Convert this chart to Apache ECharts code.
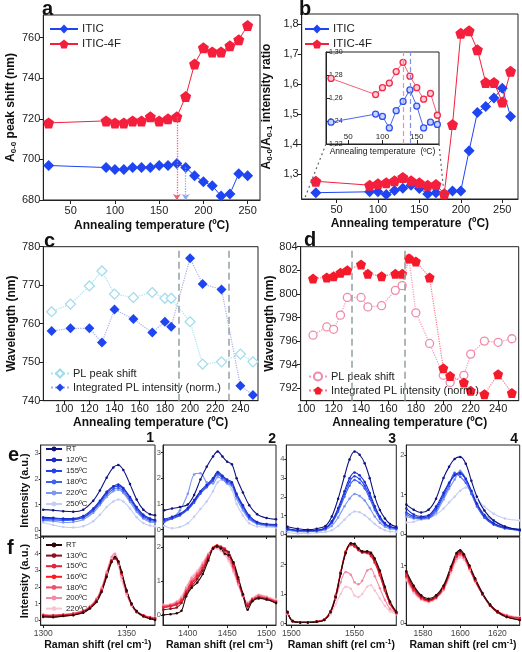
<!DOCTYPE html>
<html><head><meta charset="utf-8">
<script src="https://cdn.jsdelivr.net/npm/echarts@6/dist/echarts.min.js"></script>
<style>html,body{margin:0;padding:0;background:#fff}#c{width:522px;height:652px}</style>
</head><body><div id="c"></div>
<script>
// ---------------- DATA ----------------
// panel a
const tempA = [25,90,100,110,120,130,140,150,160,170,180,190,200,210,220,230,240,250];
const aITIC = [697,696,695,695,696,696,696,697,697,698,696,692,689,687,682,683,693,692];
const aITIC4F = [718,719,718,718,719,719,721,719,720,721,731,747,755,753,753,756,759,766];
const aArrowRed = [170, 721];
const aArrowBlue = [180, 696];
const aXTicks = [50,100,150,200,250];
const aYTicks = [680,700,720,740,760];
// panel b
const tempB = [25,90,100,110,120,130,140,150,160,170,180,190,200,210,220,230,240,250,260];
const bITIC = [1.238,1.241,1.241,1.232,1.245,1.253,1.263,1.252,1.234,1.238,1.234,1.244,1.244,1.378,1.505,1.525,1.553,1.586,1.492];
const bITIC4F = [1.276,1.263,1.268,1.271,1.278,1.289,1.278,1.271,1.263,1.265,1.234,1.465,1.769,1.777,1.714,1.605,1.605,1.540,1.642];
const bXTicks = [50,100,150,200,250];
const bYTicks = [1.3,1.4,1.5,1.6,1.7,1.8];
// panel b inset
const tempIn = [25,90,100,110,120,130,140,150,160,170,180];
const inITIC = [1.239,1.246,1.244,1.234,1.249,1.257,1.267,1.253,1.234,1.239,1.237];
const inITIC4F = [1.277,1.263,1.269,1.273,1.283,1.291,1.279,1.269,1.259,1.264,1.245];
const inXTicks = [50,100,150];
const inYTicks = [1.22,1.24,1.26,1.28,1.30];
const inMarks = [130, 140];
const bZoomTo = [[12,1.222],[180,1.226]];
// panel c
const tempC = [90,105,120,130,140,155,170,180,185,200,210,225,240,250];
const cPeak = [763.1,765.1,769.8,773.7,767.7,766.8,768.1,766.6,766.6,760.5,749.5,750.1,752.1,750.1];
const cInt = [758.1,758.8,758.8,755.1,763.7,761.2,757.7,760.5,759.2,777.0,770.3,768.9,743.9,741.5];
const cMarks = [191, 231];
const cXTicks = [100,120,140,160,180,200,220,240];
const cYTicks = [740,750,760,770,780];
// panel d
const tempD = [105,115,120,125,130,140,145,155,165,170,175,180,190,200,205,215,220,230,240,250];
const dPeak = [796.5,797.2,797.0,798.2,799.7,799.7,798.9,799.0,800.3,800.7,803.0,798.4,795.8,793.1,792.5,793.1,794.9,796.0,795.9,796.2];
const dInt = [801.3,801.4,801.5,801.8,802.0,802.5,801.7,801.5,801.7,801.7,803.0,802.75,801.4,793.7,793.05,792.5,791.8,791.5,793.2,791.6];
const dMarks = [133, 172];
const dXTicks = [100,120,140,160,180,200,220,240];
const dYTicks = [792,794,796,798,800,802,804];
// panel e (Raman, ITIC)
const eNames = ['RT','120ºC','155ºC','180ºC','220ºC','250ºC'];
const eX1 = [1300,1306,1312,1318,1324,1330,1334,1338,1342,1345,1348,1352,1356,1360,1364,1367];
const eY1 = [
 [0.80,0.78,0.74,0.72,0.80,1.15,1.55,2.05,2.45,2.55,2.35,1.80,1.20,0.80,0.62,0.58],
 [0.50,0.48,0.45,0.45,0.55,0.85,1.15,1.50,1.72,1.78,1.65,1.30,0.90,0.60,0.45,0.40],
 [0.45,0.45,0.42,0.42,0.50,0.80,1.10,1.45,1.68,1.72,1.60,1.25,0.85,0.55,0.42,0.38],
 [0.40,0.40,0.38,0.40,0.48,0.75,1.05,1.38,1.60,1.65,1.52,1.18,0.80,0.50,0.38,0.35],
 [0.38,0.35,0.30,0.32,0.42,0.68,0.98,1.30,1.52,1.58,1.45,1.10,0.72,0.45,0.32,0.30],
 [0.30,0.20,0.12,0.10,0.15,0.35,0.60,0.90,1.12,1.20,1.12,0.85,0.50,0.28,0.18,0.15]];
const eX2 = [1370,1380,1390,1400,1408,1416,1424,1432,1438,1444,1450,1456,1462,1470,1478,1488,1500,1512];
const eY2 = [
 [0.75,0.82,0.88,0.98,1.35,1.95,2.45,2.85,3.05,2.85,2.65,2.55,2.00,1.45,0.95,0.60,0.45,0.40],
 [0.40,0.50,0.62,0.85,1.15,1.50,1.75,2.00,2.25,2.10,1.95,1.85,1.40,0.95,0.55,0.30,0.22,0.20],
 [0.35,0.45,0.58,0.80,1.10,1.45,1.70,1.95,2.20,2.05,1.90,1.80,1.35,0.90,0.50,0.28,0.20,0.18],
 [0.30,0.42,0.55,0.78,1.05,1.40,1.65,1.90,2.15,2.00,1.85,1.75,1.30,0.85,0.45,0.25,0.18,0.15],
 [0.35,0.45,0.75,1.40,2.15,2.20,1.85,1.80,2.05,1.95,1.80,1.70,1.20,0.75,0.40,0.22,0.15,0.12],
 [0.15,0.05,0.10,0.25,0.50,0.80,1.10,1.50,1.85,1.95,1.80,1.55,1.00,0.55,0.25,0.12,0.10,0.08]];
const eX3 = [1497,1505,1513,1520,1527,1532,1537,1542,1546,1550,1554,1558,1562,1566,1570,1574,1578,1583];
const eY3 = [
 [0.40,0.30,0.25,0.30,0.45,0.95,1.90,3.10,4.00,4.42,4.25,3.80,3.00,2.00,1.30,0.85,0.55,0.40],
 [0.30,0.22,0.20,0.22,0.35,0.70,1.40,2.30,3.00,3.30,3.15,2.80,2.20,1.50,0.95,0.60,0.42,0.35],
 [0.28,0.20,0.18,0.20,0.32,0.65,1.30,2.15,2.80,3.10,2.95,2.60,2.05,1.40,0.90,0.55,0.40,0.33],
 [0.25,0.18,0.16,0.18,0.30,0.60,1.20,2.00,2.60,2.90,2.75,2.45,1.90,1.30,0.82,0.50,0.36,0.30],
 [0.22,0.15,0.14,0.16,0.25,0.45,0.90,1.50,1.90,2.15,2.05,1.80,1.40,0.95,0.62,0.40,0.30,0.26],
 [0.10,0.05,0.05,0.08,0.12,0.22,0.45,0.78,1.05,1.22,1.18,1.02,0.80,0.55,0.35,0.22,0.15,0.12]];
const eX4 = [1571,1575,1579,1583,1587,1591,1594,1597,1600,1603,1606,1609,1613,1618,1624,1632];
const eY4 = [
 [0.75,0.62,0.55,0.62,0.90,1.42,1.70,1.90,1.95,1.78,1.35,0.95,0.60,0.35,0.20,0.12],
 [0.65,0.50,0.45,0.48,0.70,1.05,1.30,1.50,1.55,1.40,1.10,0.78,0.48,0.28,0.18,0.12],
 [0.55,0.45,0.42,0.45,0.65,1.00,1.28,1.48,1.52,1.38,1.08,0.75,0.45,0.26,0.16,0.10],
 [0.50,0.42,0.40,0.42,0.60,0.95,1.22,1.55,1.45,1.30,1.02,0.70,0.42,0.24,0.15,0.10],
 [0.45,0.40,0.38,0.40,0.55,0.88,1.15,1.38,1.60,1.40,1.05,0.75,0.50,0.35,0.20,0.12],
 [0.30,0.32,0.38,0.42,0.50,0.65,0.80,0.95,1.10,1.18,1.10,0.90,0.70,0.52,0.40,0.35]];
// panel f (Raman, ITIC-4F)
const fNames = ['RT','130ºC','150ºC','160ºC','180ºC','200ºC','220ºC'];
const fX1 = [1300,1306,1312,1318,1324,1328,1332,1335,1338,1341,1343,1345,1347,1350,1353,1356,1360,1364,1367];
const fY1 = [
 [0.20,0.18,0.25,0.30,0.45,0.70,1.10,1.70,2.60,3.50,3.80,3.55,2.90,1.80,1.00,0.55,0.25,0.10,0.02],
 [0.25,0.22,0.28,0.32,0.48,0.72,1.15,1.75,2.65,3.55,3.75,3.50,2.85,1.75,0.95,0.50,0.22,0.10,0.05],
 [0.30,0.28,0.32,0.38,0.52,0.78,1.20,1.80,2.70,3.55,3.70,3.45,2.80,1.70,0.95,0.50,0.28,0.15,0.10],
 [0.28,0.26,0.30,0.36,0.50,0.76,1.20,1.80,2.75,3.60,3.80,3.50,2.80,1.72,0.95,0.52,0.28,0.15,0.12],
 [0.32,0.30,0.33,0.40,0.55,0.80,1.25,1.85,2.75,3.60,3.75,3.40,2.75,1.70,0.95,0.55,0.30,0.18,0.14],
 [0.35,0.32,0.36,0.42,0.58,0.85,1.30,1.95,2.90,3.80,4.00,3.50,2.60,1.60,0.90,0.50,0.30,0.20,0.16],
 [0.30,0.28,0.32,0.38,0.52,0.78,1.25,1.90,2.85,3.70,3.90,3.30,2.40,1.50,0.85,0.48,0.28,0.18,0.15]];
const fX2 = [1369,1378,1386,1392,1398,1405,1412,1419,1426,1432,1437,1442,1447,1452,1458,1464,1470,1476,1482,1490,1500,1512];
const fY2 = [
 [0.00,0.02,0.05,0.12,0.55,0.80,0.95,1.20,1.60,1.95,2.02,1.95,1.80,1.75,1.55,1.10,0.60,0.15,0.40,0.48,0.45,0.35],
 [0.15,0.18,0.22,0.35,0.62,0.85,1.05,1.30,1.65,1.95,2.02,1.98,1.90,1.85,1.50,1.05,0.62,0.25,0.42,0.50,0.45,0.35],
 [0.22,0.25,0.30,0.40,0.66,0.92,1.10,1.35,1.70,1.95,2.00,2.00,1.95,1.80,1.45,1.00,0.60,0.30,0.45,0.52,0.48,0.38],
 [0.22,0.26,0.32,0.42,0.68,0.95,1.15,1.38,1.72,1.98,2.05,2.00,1.92,1.78,1.42,0.98,0.58,0.30,0.45,0.52,0.48,0.38],
 [0.25,0.28,0.35,0.45,0.72,1.00,1.20,1.45,1.75,1.95,2.00,1.95,1.88,1.72,1.38,0.95,0.56,0.32,0.45,0.55,0.50,0.40],
 [0.28,0.30,0.38,0.50,0.78,1.08,1.25,1.50,1.78,1.95,1.98,1.92,1.82,1.65,1.30,0.90,0.55,0.35,0.48,0.58,0.52,0.42],
 [0.30,0.32,0.40,0.55,0.82,1.12,1.30,1.55,1.80,1.92,1.95,1.88,1.75,1.58,1.25,0.88,0.55,0.38,0.50,0.60,0.55,0.45]];
const fX3 = [1497,1501,1507,1513,1520,1526,1531,1535,1539,1543,1547,1550,1553,1556,1560,1563,1566,1570,1574,1578,1583];
const fY3 = [
 [0.40,0.08,0.04,0.04,0.06,0.12,0.40,0.90,1.70,2.40,2.72,2.70,2.55,2.45,2.45,2.40,2.20,1.80,1.25,0.75,0.40],
 [0.38,0.08,0.04,0.04,0.06,0.12,0.38,0.88,1.68,2.38,2.70,2.68,2.52,2.42,2.42,2.35,2.15,1.75,1.20,0.72,0.38],
 [0.36,0.09,0.05,0.05,0.07,0.13,0.40,0.92,1.72,2.42,2.68,2.62,2.50,2.42,2.40,2.32,2.10,1.70,1.15,0.70,0.36],
 [0.36,0.09,0.05,0.05,0.07,0.13,0.42,0.95,1.75,2.45,2.70,2.65,2.52,2.45,2.42,2.30,2.08,1.65,1.12,0.68,0.36],
 [0.35,0.10,0.05,0.05,0.08,0.14,0.42,0.95,1.72,2.40,2.65,2.60,2.48,2.40,2.38,2.28,2.05,1.62,1.10,0.66,0.35],
 [0.35,0.10,0.05,0.05,0.08,0.14,0.40,0.85,1.40,1.75,1.65,1.40,1.33,1.45,1.80,1.85,1.60,1.20,0.80,0.50,0.35],
 [0.32,0.10,0.05,0.05,0.08,0.12,0.32,0.65,1.00,1.25,1.18,0.95,0.90,1.00,1.25,1.30,1.12,0.85,0.60,0.42,0.32]];
const fX4 = [1571,1575,1579,1583,1587,1591,1595,1598,1600,1602,1605,1608,1612,1616,1620,1625,1632];
const fY4 = [
 [0.90,0.65,0.48,0.42,0.48,0.65,0.98,1.22,1.27,1.20,1.00,0.78,0.52,0.32,0.20,0.10,0.05],
 [0.88,0.62,0.46,0.40,0.46,0.62,0.95,1.20,1.25,1.18,0.98,0.76,0.50,0.30,0.18,0.10,0.05],
 [0.85,0.60,0.45,0.40,0.45,0.62,0.95,1.18,1.24,1.18,0.98,0.76,0.50,0.32,0.20,0.12,0.08],
 [0.82,0.58,0.44,0.38,0.44,0.60,0.92,1.16,1.22,1.16,0.96,0.74,0.50,0.32,0.20,0.12,0.08],
 [0.80,0.56,0.42,0.38,0.44,0.60,0.92,1.15,1.20,1.15,0.95,0.74,0.50,0.32,0.20,0.12,0.08],
 [0.78,0.55,0.42,0.38,0.44,0.58,0.90,1.12,1.18,1.13,0.94,0.72,0.50,0.32,0.20,0.13,0.09],
 [0.75,0.52,0.40,0.36,0.42,0.56,0.86,1.08,1.14,1.10,0.92,0.72,0.50,0.32,0.21,0.14,0.10]];

// ---------------- CHART ----------------
const FONT = '"Liberation Sans", Arial, sans-serif';
const chart = echarts.init(document.getElementById('c'));
const PENT = 'path://M0,-10L9.51,-3.09L5.88,8.09L-5.88,8.09L-9.51,-3.09Z';
const zip = (x, y) => x.map((v, i) => [v, y[i]]);
const box = (l, t, r, b, bg) => ({left: l, top: t, width: r - l, height: b - t, show: true, borderColor: '#222', borderWidth: 1, backgroundColor: bg || 'transparent'});
function ax(gi, min, max, ticks, o) {
  o = o || {};
  return {
    gridIndex: gi, type: 'value', min: min, max: max,
    splitLine: {show: false},
    axisLine: {show: true, onZero: false, lineStyle: {color: '#222', width: 1}},
    axisTick: {show: true, customValues: ticks, length: o.tl || 4, inside: !!o.inside, lineStyle: {color: '#222'}},
    axisLabel: {show: !o.noLabel, customValues: ticks, inside: !!o.labelInside, fontFamily: FONT, fontSize: o.fs || 11,
      color: o.lc || '#222', margin: o.lm == null ? 3 : o.lm, formatter: o.fmt || (v => String(v))},
    name: o.name || '', nameLocation: 'middle', nameGap: o.ng || 20,
    nameTextStyle: {fontFamily: FONT, fontSize: o.nfs || 12, fontWeight: o.nw || 'bold', color: '#111', rich: o.rich || {}}
  };
}
const subRich = {s: {fontSize: 8, fontWeight: 'bold', fontFamily: FONT, color: '#111', padding: [6, 0, 0, 0]}};
const supRich = {p: {fontSize: 7, fontWeight: 'bold', fontFamily: FONT, color: '#111', padding: [0, 0, 6, 0]}};
const comma = d => v => v.toFixed(d).replace('.', ',');

const grids = [
  box(43.3, 15, 260, 200),      // 0 a
  box(301.7, 14, 518, 199),     // 1 b
  box(326, 52, 439, 144, '#fff'), // 2 inset
  box(43.3, 246.7, 258, 400.7), // 3 c
  box(300.7, 246.7, 518.7, 400.7), // 4 d
  box(40.7, 445, 155, 536), box(163, 445, 276, 536), box(286.3, 445, 396.3, 536), box(406.3, 445, 519.7, 536), // 5-8 e
  box(40.7, 537, 155, 629), box(163, 537, 276, 629), box(286.3, 537, 396.3, 629), box(406.3, 537, 519.7, 629)  // 9-12 f
];

const annT = 'Annealing temperature (ºC)';
const xAxes = [
  ax(0, 19, 264, aXTicks, {name: annT, ng: 20, lm: 5}),
  ax(1, 8, 269, bXTicks, {name: 'Annealing temperature  (ºC)', ng: 19, lm: 5}),
  ax(2, 17.7, 182.4, inXTicks, {inside: true, labelInside: true, fs: 8, lm: 3, name: 'Annealing temperature  (ºC)', ng: 3, nfs: 8.5, nw: 'normal'}),
  ax(3, 83.4, 254, cXTicks, {name: annT, ng: 16, lm: 3}),
  ax(4, 96, 255, dXTicks, {name: annT, ng: 16, lm: 3})
];
const yAxes = [
  ax(0, 680, 771.2, aYTicks, {name: 'A{s|0-0} peak shift (nm)', rich: subRich, ng: 26}),
  ax(1, 1.217, 1.833, bYTicks, {name: 'A{s|0-0}/A{s|0-1} intensity ratio', rich: subRich, ng: 28, fmt: comma(1)}),
  ax(2, 1.22, 1.30, inYTicks, {inside: true, labelInside: true, fs: 7, fmt: comma(2)}),
  ax(3, 740, 780, cYTicks, {name: 'Wavelength (nm)', ng: 24}),
  ax(4, 790.95, 804, dYTicks, {name: 'Wavelength (nm)', ng: 24})
];
const ramanX = [[1298.5,1367,[1300,1350]],[1368.5,1512,[1400,1450,1500]],[1496,1583,[1500,1550]],[1571,1632,[1580,1600,1620]]];
const eYR = [[-0.23,3.33,[0,1,2,3]],[-0.25,3.3,[0,1,2,3]],[-0.09,4.77,[0,1,2,3,4]],[-0.04,2.25,[0,1,2]]];
const fYR = [[-0.29,5.0,[0,1,2,3,4,5]],[-0.3,2.29,[0,1,2]],[-0.05,2.93,[0,1,2]],[-0.04,1.5,[0,1]]];
for (let k = 0; k < 4; k++) {
  const rx = ramanX[k];
  xAxes.push(ax(5 + k, rx[0], rx[1], rx[2], {noLabel: true, tl: 3}));
  yAxes.push(ax(5 + k, eYR[k][0], eYR[k][1], eYR[k][2], {fs: 7.5, lc: '#555', tl: 2, lm: 2,
    name: k === 0 ? 'Intensity (a.u.)' : '', ng: 10, nfs: 11}));
}
for (let k = 0; k < 4; k++) {
  const rx = ramanX[k];
  xAxes.push(ax(9 + k, rx[0], rx[1], rx[2], {fs: 8.5, lc: '#444', tl: 3, lm: 4,
    name: 'Raman shift (rel cm{p|-1})', rich: supRich, ng: 13, nfs: 10.5}));
  yAxes.push(ax(9 + k, fYR[k][0], fYR[k][1], fYR[k][2], {fs: 7.5, lc: '#555', tl: 2, lm: 2,
    name: k === 0 ? 'Intensity (a.u.)' : '', ng: 10, nfs: 11}));
}

const BLUE = '#1f45f2', RED = '#f41f3c';
const series = [];
function ln(gi, name, data, o) {
  series.push(Object.assign({
    type: 'line', name: name, xAxisIndex: gi, yAxisIndex: gi, data: data,
    symbol: 'circle', symbolSize: 6, showSymbol: true, animation: false,
    itemStyle: {color: o.color}, lineStyle: {color: o.lineColor || o.color, width: o.lw || 1, type: o.ltype || 'solid'}
  }, o.extra || {}));
}
// a
ln(0, 'ITIC', zip(tempA, aITIC), {color: BLUE, extra: {symbol: 'diamond', symbolSize: 11,
  markLine: {silent: true, symbol: ['none', 'arrow'], symbolSize: 6, label: {show: false},
    lineStyle: {color: '#8fa7f5', type: 'dotted', width: 1.3},
    data: [[{coord: aArrowBlue}, {coord: [aArrowBlue[0], 680]}]]}}});
ln(0, 'ITIC-4F', zip(tempA, aITIC4F), {color: RED, extra: {symbol: PENT, symbolSize: 11,
  markLine: {silent: true, symbol: ['none', 'arrow'], symbolSize: 6, label: {show: false},
    lineStyle: {color: '#f0607a', type: 'dotted', width: 1.3},
    data: [[{coord: aArrowRed}, {coord: [aArrowRed[0], 680]}]]}}});
// b
ln(1, 'ITIC', zip(tempB, bITIC), {color: BLUE, extra: {symbol: 'diamond', symbolSize: 11}});
ln(1, 'ITIC-4F', zip(tempB, bITIC4F), {color: RED, extra: {symbol: PENT, symbolSize: 11}});
// inset
ln(2, 'in ITIC', zip(tempIn, inITIC), {color: '#3a5af0', lineColor: '#4a68f0', extra: {symbolSize: 6,
  itemStyle: {color: '#c9d3ff', borderColor: '#2e50ee', borderWidth: 1.3},
  markLine: {silent: true, symbol: 'none', label: {show: false}, lineStyle: {color: '#8090e0', type: [5, 3], width: 1.2},
    data: [{xAxis: inMarks[1]}]}}});
ln(2, 'in ITIC-4F', zip(tempIn, inITIC4F), {color: '#f0405a', lineColor: '#f0607a', extra: {symbolSize: 6,
  itemStyle: {color: '#ffd0da', borderColor: '#f02a48', borderWidth: 1.3},
  markLine: {silent: true, symbol: 'none', label: {show: false}, lineStyle: {color: '#f090a8', type: [5, 3], width: 1.2},
    data: [{xAxis: inMarks[0]}]}}});
// c
ln(3, 'PL peak shift', zip(tempC, cPeak), {color: '#a8e2ee', ltype: 'dotted', lw: 1.2, extra: {symbol: 'diamond', symbolSize: 10,
  itemStyle: {color: '#ffffff', borderColor: '#9edcec', borderWidth: 1.2},
  markLine: {silent: true, symbol: 'none', label: {show: false}, lineStyle: {color: '#9aa6a6', type: [7, 4], width: 1.6},
    data: cMarks.map(v => ({xAxis: v}))}}});
ln(3, 'Integrated PL intensity (norm.)', zip(tempC, cInt), {color: '#1f45f2', lineColor: '#a8aee8', ltype: 'dotted', lw: 1.2, extra: {symbol: 'diamond', symbolSize: 10}});
// d
ln(4, 'PL peak shift~d', zip(tempD, dPeak), {color: '#f59ab4', ltype: 'dotted', lw: 1.2, extra: {symbol: 'circle', symbolSize: 8,
  itemStyle: {color: '#ffffff', borderColor: '#f08aa8', borderWidth: 1.3},
  markLine: {silent: true, symbol: 'none', label: {show: false}, lineStyle: {color: '#9aa6a6', type: [7, 4], width: 1.6},
    data: dMarks.map(v => ({xAxis: v}))}}});
ln(4, 'Integrated PL intensity (norm.)~d', zip(tempD, dInt), {color: '#f41a2a', lineColor: '#f38090', ltype: 'dotted', lw: 1.2, extra: {symbol: PENT, symbolSize: 10}});
// e, f
const eCol = ['#0e1280', '#1a2cc8', '#2442ee', '#3f62f2', '#7c96f2', '#c5cdf5'];
const fCol = ['#2a0808', '#8c1020', '#e3243a', '#ff1a1a', '#f24c6c', '#f58aa8', '#f9c3d3'];
const eXs = [eX1, eX2, eX3, eX4], eYs = [eY1, eY2, eY3, eY4];
const fXs = [fX1, fX2, fX3, fX4], fYs = [fY1, fY2, fY3, fY4];
for (let k = 0; k < 4; k++) {
  for (let j = eNames.length - 1; j >= 0; j--) {
    ln(5 + k, 'e~' + eNames[j], zip(eXs[k], eYs[k][j]), {color: eCol[j], lw: 1.1, extra: {smooth: 0.35, symbolSize: 2.5}});
  }
  for (let j = fNames.length - 1; j >= 0; j--) {
    ln(9 + k, 'f~' + fNames[j], zip(fXs[k], fYs[k][j]), {color: fCol[j], lw: 1.1, extra: {smooth: 0.35, symbolSize: 2.5}});
  }
}

const strip = n => n.indexOf('~') >= 0 ? (n.startsWith('e~') || n.startsWith('f~') ? n.slice(2) : n.split('~')[0]) : n;
function lg(left, top, names, fs, iw, ih, gap) {
  return {left: left, top: top, orient: 'vertical', data: names, selectedMode: false, padding: 0,
    itemWidth: iw, itemHeight: ih, itemGap: gap, formatter: strip,
    textStyle: {fontFamily: FONT, fontSize: fs, color: '#222', padding: [0, 0, 0, -1]}};
}
const legends = [
  lg(49, 23, ['ITIC', 'ITIC-4F'], 11.5, 28, 11, 3),
  lg(304, 23, ['ITIC', 'ITIC-4F'], 11.5, 24, 11, 3),
  lg(50, 368, ['PL peak shift', 'Integrated PL intensity (norm.)'], 11, 18, 10, 3),
  lg(308, 371, ['PL peak shift~d', 'Integrated PL intensity (norm.)~d'], 11, 18, 10, 3),
  lg(45, 445, eNames.map(n => 'e~' + n), 7.8, 16, 6, 3),
  lg(45, 541, fNames.map(n => 'f~' + n), 7.8, 16, 6, 2.6)
];

const T = (x, y, text, fs, align) => ({type: 'text', x: x, y: y, z: 100,
  style: {text: text, fontFamily: FONT, fontSize: fs, fontWeight: 'bold', fill: '#111', textAlign: align || 'left', textVerticalAlign: 'middle'}});
const labels = [
  T(42, 9, 'a', 20), T(299, 9, 'b', 20), T(44, 241, 'c', 20), T(304, 240, 'd', 20),
  T(8, 455, 'e', 20), T(7, 548, 'f', 20),
  T(154, 438, '1', 14, 'right'), T(276, 439, '2', 14, 'right'),
  T(396, 439, '3', 14, 'right'), T(518, 439, '4', 14, 'right')
];

chart.setOption({
  animation: false, backgroundColor: '#fff',
  grid: grids, xAxis: xAxes, yAxis: yAxes, series: series, legend: legends, graphic: labels
});

// connector lines from inset to main panel b
const c0 = chart.convertToPixel({gridIndex: 2}, [17.7, 1.22]);
const c1 = chart.convertToPixel({gridIndex: 2}, [182.4, 1.22]);
const t0 = chart.convertToPixel({gridIndex: 1}, bZoomTo[0]);
const t1 = chart.convertToPixel({gridIndex: 1}, bZoomTo[1]);
const conn = [[c0, t0], [c1, t1]].map(p => ({type: 'line', z: 50, shape: {x1: p[0][0], y1: p[0][1], x2: p[1][0], y2: p[1][1]},
  style: {stroke: '#5a6a6a', lineWidth: 1.2, lineDash: [2, 3]}}));
chart.setOption({graphic: labels.concat(conn)});
</script></body></html>
